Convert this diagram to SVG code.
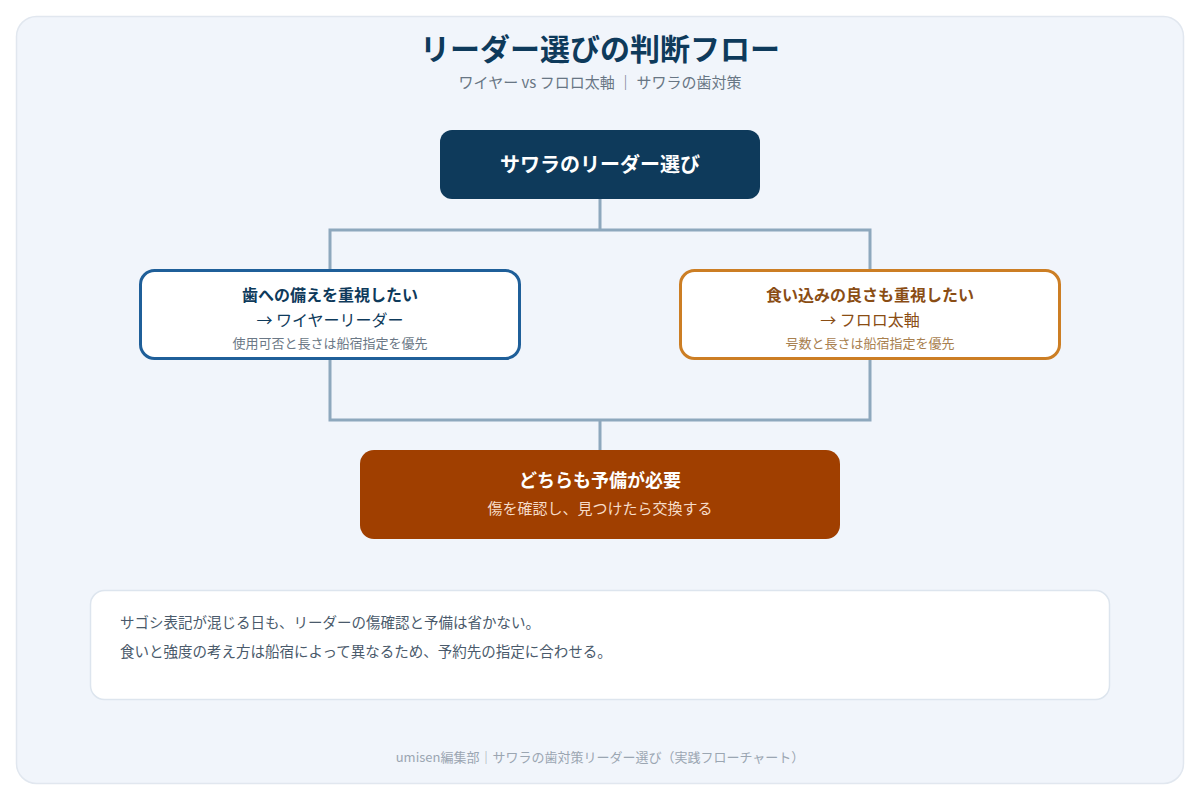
<svg xmlns="http://www.w3.org/2000/svg" width="1200" height="800" viewBox="0 0 1200 800">
<style>
text{font-family:"Noto Sans CJK JP","Noto Sans",sans-serif;text-anchor:middle}
.c{fill:none;stroke:#8ea8bd;stroke-width:3}
.b{font-weight:700}
</style>
<rect x="0" y="0" width="1200" height="800" fill="#ffffff"/>
<rect x="16.5" y="16.5" width="1167" height="767" rx="20" fill="#f1f5fb" stroke="#e1e7ef" stroke-width="1.5"/>
<g id="title">
<text x="600" y="60" font-size="30" class="b" fill="#0e3a5b">リーダー選びの判断フロー</text>
<text x="600" y="88" font-size="15" fill="#687684">ワイヤー vs フロロ太軸 ｜ サワラの歯対策</text>
</g>
<g id="connectors">
<path class="c" d="M600 199V230M330 270V230H870V270"/>
<path class="c" d="M330 359V420H870V359M600 420V450"/>
</g>
<g id="root">
<rect x="440" y="130" width="320" height="69" rx="12" fill="#0e3a5b"/>
<text x="600" y="172" font-size="20" class="b" fill="#ffffff">サワラのリーダー選び</text>
</g>
<g id="wire">
<rect x="140.5" y="270.5" width="379" height="88" rx="14" fill="#ffffff" stroke="#1f5f99" stroke-width="3"/>
<text x="330" y="301" font-size="16" class="b" fill="#0e3a5b">歯への備えを重視したい</text>
<text x="330" y="326" font-size="16" fill="#0e3a5b">→ ワイヤーリーダー</text>
<text x="330" y="348" font-size="13" fill="#6b7886">使用可否と長さは船宿指定を優先</text>
</g>
<g id="fluoro">
<rect x="680.5" y="270.5" width="379" height="88" rx="14" fill="#ffffff" stroke="#cc7e24" stroke-width="3"/>
<text x="870" y="301" font-size="16" class="b" fill="#8a4d14">食い込みの良さも重視したい</text>
<text x="870" y="326" font-size="16" fill="#8a4d14">→ フロロ太軸</text>
<text x="870" y="348" font-size="13" fill="#a8804f">号数と長さは船宿指定を優先</text>
</g>
<g id="spare">
<rect x="360" y="450" width="480" height="89" rx="14" fill="#a03f00"/>
<text x="600" y="487" font-size="18" class="b" fill="#ffffff">どちらも予備が必要</text>
<text x="600" y="514" font-size="15" fill="#f6dcc8">傷を確認し、見つけたら交換する</text>
</g>
<g id="note">
<rect x="90.5" y="590.5" width="1019" height="109" rx="14" fill="#ffffff" stroke="#dde5ee" stroke-width="1.5"/>
<text x="120" y="628" font-size="14.5" fill="#4a5a6b" style="text-anchor:start">サゴシ表記が混じる日も、リーダーの傷確認と予備は省かない。</text>
<text x="120" y="657" font-size="14.5" fill="#4a5a6b" style="text-anchor:start">食いと強度の考え方は船宿によって異なるため、予約先の指定に合わせる。</text>
</g>
<g id="footer">
<text x="600" y="762" font-size="13" fill="#9ba6b2">umisen編集部｜サワラの歯対策リーダー選び（実践フローチャート）</text>
</g>
</svg>
